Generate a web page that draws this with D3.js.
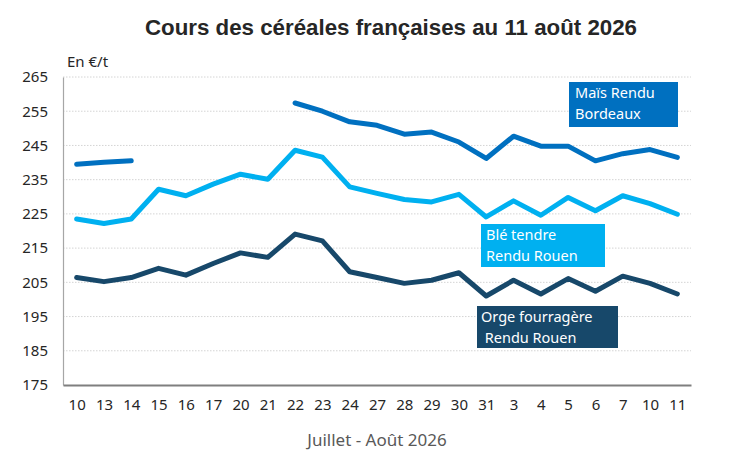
<!DOCTYPE html>
<html>
<head>
<meta charset="utf-8">
<script src="https://cdn.jsdelivr.net/npm/d3@7"></script>
<style>
  body { margin: 0; background: #fff; }
  svg text { font-family: "Noto Sans", "Open Sans", sans-serif; }
</style>
</head>
<body>
<div id="chart"></div>
<script>
// Dates (juillet -> août 2026)
const days = ["10","13","14","15","16","17","20","21","22","23","24","27","28","29","30","31","3","4","5","6","7","10","11"];
const dayKeys = days.map((d, i) => `${i}-${d}`);

const mais = [239.5, 240.1, 240.5, null, null, null, null, null, 257.4, 255.0, 251.9, 250.9, 248.3, 248.9, 246.0, 241.2, 247.7, 244.8, 244.8, 240.5, 242.6, 243.8, 241.5];
const ble = [223.5, 222.2, 223.5, 232.2, 230.3, 233.7, 236.6, 235.1, 243.6, 241.6, 232.9, 231.0, 229.2, 228.5, 230.7, 224.1, 228.8, 224.6, 229.8, 225.9, 230.3, 228.0, 224.9];
const orge = [206.4, 205.2, 206.4, 209.1, 207.1, 210.5, 213.6, 212.3, 219.1, 217.1, 208.1, 206.4, 204.7, 205.6, 207.8, 201.0, 205.6, 201.6, 206.1, 202.4, 206.8, 204.7, 201.6];

const yTicks = [175, 185, 195, 205, 215, 225, 235, 245, 255, 265];

const series = [
  { name: ["Maïs Rendu", "Bordeaux"], values: mais, color: "#0070C0",
    box: { x: 569, y: 82, w: 109, h: 45, tx: 575, ty: 98 } },
  { name: ["Blé tendre", "Rendu Rouen"], values: ble, color: "#00B0F0",
    box: { x: 481, y: 224, w: 124, h: 43, tx: 486, ty: 240 } },
  { name: ["Orge fourragère", " Rendu Rouen"], values: orge, color: "#17486A",
    box: { x: 477, y: 306, w: 141, h: 42, tx: 481, ty: 322 } }
];

const width = 747, height = 471;
const margin = { top: 77, right: 56, bottom: 86, left: 63 };
const innerW = width - margin.left - margin.right;
const innerH = height - margin.top - margin.bottom;

const svg = d3.select("#chart").append("svg")
  .attr("width", width)
  .attr("height", height);

const g = svg.append("g")
  .attr("transform", `translate(${margin.left},${margin.top})`);

const x = d3.scalePoint()
  .domain(dayKeys)
  .range([0, innerW])
  .padding(0.5);

const y = d3.scaleLinear()
  .domain([175, 265])
  .range([innerH, 0]);

// gridlines
g.selectAll(".grid")
  .data(yTicks.slice(1))
  .enter()
  .append("line")
  .attr("x1", 0)
  .attr("x2", innerW)
  .attr("y1", d => y(d))
  .attr("y2", d => y(d))
  .attr("stroke", "#d4d4d4")
  .attr("stroke-width", 1)
  .attr("stroke-dasharray", "1.5,1.5");

// y axis
const yAxis = g.append("g")
  .call(d3.axisLeft(y).tickValues(yTicks).tickSize(0).tickPadding(15));
yAxis.select(".domain").attr("stroke", "#a6a6a6").attr("stroke-width", 1.2);
yAxis.selectAll("text")
  .attr("font-size", 15)
  .attr("fill", "#262626");

// x axis
const xAxis = g.append("g")
  .attr("transform", `translate(0,${innerH})`)
  .call(d3.axisBottom(x).tickSize(0).tickPadding(14).tickFormat((d, i) => days[i]));
xAxis.select(".domain").attr("stroke", "#7f7f7f").attr("stroke-width", 2);
xAxis.selectAll("text")
  .attr("font-size", 15)
  .attr("fill", "#262626");

// lines
const line = d3.line()
  .defined(d => d.v != null)
  .x(d => x(d.k))
  .y(d => y(d.v));

series.forEach(s => {
  g.append("path")
    .datum(s.values.map((v, i) => ({ k: dayKeys[i], v })))
    .attr("fill", "none")
    .attr("stroke", s.color)
    .attr("stroke-width", 5)
    .attr("stroke-linejoin", "round")
    .attr("stroke-linecap", "round")
    .attr("d", line);
});

// series labels (boxes)
series.forEach(s => {
  const b = s.box;
  svg.append("rect")
    .attr("x", b.x).attr("y", b.y)
    .attr("width", b.w).attr("height", b.h)
    .attr("fill", s.color);
  s.name.forEach((t, i) => {
    svg.append("text")
      .attr("x", b.tx)
      .attr("y", b.ty + i * 21)
      .attr("font-size", 14.5)
      .attr("fill", "#fff")
      .attr("xml:space", "preserve")
      .style("white-space", "pre")
      .text(t);
  });
});

// title
svg.append("text")
  .attr("x", 391)
  .attr("y", 35)
  .attr("text-anchor", "middle")
  .attr("font-size", 22.3)
  .attr("font-weight", "bold")
  .style("font-family", "'Liberation Sans', Arial, sans-serif")
  .attr("fill", "#262626")
  .text("Cours des céréales françaises au 11 août 2026");

// unit
svg.append("text")
  .attr("x", 67)
  .attr("y", 67)
  .attr("font-size", 15)
  .attr("fill", "#262626")
  .text("En €/t");

// x axis title
svg.append("text")
  .attr("x", 377)
  .attr("y", 446)
  .attr("text-anchor", "middle")
  .attr("font-size", 17)
  .attr("fill", "#595959")
  .text("Juillet - Août 2026");
</script>
</body>
</html>
